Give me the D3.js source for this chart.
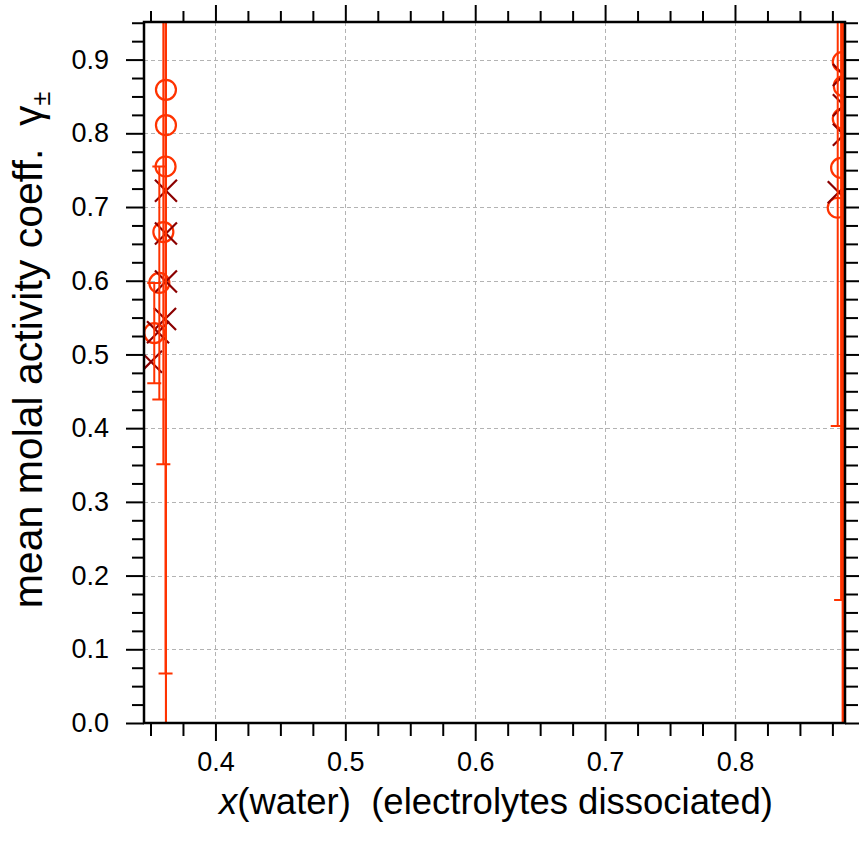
<!DOCTYPE html>
<html>
<head>
<meta charset="utf-8">
<script src="https://cdn.jsdelivr.net/npm/d3@7"></script>
<style>
  html, body { margin: 0; padding: 0; background: #fff; }
  svg { display: block; }
  text { font-family: "Liberation Sans", Arial, sans-serif; fill: #000; white-space: pre; }
</style>
</head>
<body>
<svg id="chart" width="859" height="845"></svg>
<script>
// ---- data ----
const xMajorTicks = [0.4, 0.5, 0.6, 0.7, 0.8];
const yMajorTicks = [0.0, 0.1, 0.2, 0.3, 0.4, 0.5, 0.6, 0.7, 0.8, 0.9];

// experimental points (circles) with symmetric uncertainty
const expX   = [0.3529, 0.3568, 0.3599, 0.3616, 0.3619, 0.3619, 0.8791, 0.8817, 0.8830, 0.8838, 0.8830];
const expY   = [0.529, 0.597, 0.666, 0.755, 0.811, 0.859, 0.699, 0.753, 0.820, 0.864, 0.897];
const expErr = [0.068, 0.158, 0.315, 0.688, 1.000, 1.200, 0.296, 0.586, 1.000, 1.200, 1.400];

// model points (crosses)
const modX = [0.3504, 0.3558, 0.3612, 0.3619, 0.3619, 0.3619, 0.8799, 0.8838, 0.8838, 0.8838];
const modY = [0.490, 0.530, 0.548, 0.599, 0.664, 0.722, 0.720, 0.798, 0.838, 0.879];

const xLabel = "(water)  (electrolytes dissociated)";
const yLabel = "mean molal activity coeff.  γ";

// ---- layout ----
const L = 144, R = 845, T = 22, B = 723;
const svg = d3.select("#chart");

const x = d3.scaleLinear().domain([0.345, 0.8847]).range([L, R]);
const y = d3.scaleLinear().domain([0, 0.951]).range([B, T]);

const xMinor = d3.range(0.35, 0.8847, 0.025).filter(v => !xMajorTicks.some(m => Math.abs(m - v) < 1e-6));
const yMinor = d3.range(0.025, 0.951, 0.025).filter(v => !yMajorTicks.some(m => Math.abs(m - v) < 1e-6));

// grid
const grid = svg.append("g").attr("stroke", "#b3b3b3").attr("stroke-width", 1).attr("stroke-dasharray", "4,3");
grid.selectAll("line.gx").data(xMajorTicks).join("line")
  .attr("x1", d => Math.round(x(d)) + 0.5).attr("x2", d => Math.round(x(d)) + 0.5)
  .attr("y1", T).attr("y2", B);
grid.selectAll("line.gy").data(yMajorTicks.filter(d => d > 0)).join("line")
  .attr("y1", d => Math.round(y(d)) + 0.5).attr("y2", d => Math.round(y(d)) + 0.5)
  .attr("x1", L).attr("x2", R);

// axes
function styleAxis(g) {
  g.select(".domain").remove();
  g.selectAll(".tick line").attr("stroke", "#000").attr("stroke-width", 2);
}
const fmt = d3.format(".1f");

// left
svg.append("g").attr("transform", `translate(${L},0)`)
  .call(d3.axisLeft(y).tickValues(yMajorTicks).tickSize(18).tickPadding(17).tickFormat(fmt))
  .call(styleAxis)
  .call(g => g.selectAll("text").attr("font-size", 27).attr("font-family", "Liberation Sans, Arial, sans-serif").attr("fill", "#000"));
svg.append("g").attr("transform", `translate(${L},0)`)
  .call(d3.axisLeft(y).tickValues(yMinor).tickSize(12).tickFormat(""))
  .call(styleAxis);
// right
svg.append("g").attr("transform", `translate(${R},0)`)
  .call(d3.axisRight(y).tickValues(yMajorTicks).tickSize(18).tickFormat(""))
  .call(styleAxis);
svg.append("g").attr("transform", `translate(${R},0)`)
  .call(d3.axisRight(y).tickValues(yMinor).tickSize(13).tickFormat(""))
  .call(styleAxis);
// bottom
svg.append("g").attr("transform", `translate(0,${B})`)
  .call(d3.axisBottom(x).tickValues(xMajorTicks).tickSize(18).tickPadding(11).tickFormat(fmt))
  .call(styleAxis)
  .call(g => g.selectAll("text").attr("font-size", 27).attr("font-family", "Liberation Sans, Arial, sans-serif").attr("fill", "#000"));
svg.append("g").attr("transform", `translate(0,${B})`)
  .call(d3.axisBottom(x).tickValues(xMinor).tickSize(13).tickFormat(""))
  .call(styleAxis);
// top
svg.append("g").attr("transform", `translate(0,${T})`)
  .call(d3.axisTop(x).tickValues(xMajorTicks).tickSize(17).tickFormat(""))
  .call(styleAxis);
svg.append("g").attr("transform", `translate(0,${T})`)
  .call(d3.axisTop(x).tickValues(xMinor).tickSize(11).tickFormat(""))
  .call(styleAxis);

// clip
svg.append("clipPath").attr("id", "clip")
  .append("rect").attr("x", L).attr("y", T).attr("width", R - L).attr("height", B - T);
const plot = svg.append("g").attr("clip-path", "url(#clip)");

const expData = expX.map((v, i) => ({ x: v, y: expY[i], e: expErr[i] }));
const modData = modX.map((v, i) => ({ x: v, y: modY[i] }));

// circles
plot.append("g").selectAll("circle").data(expData).join("circle")
  .attr("cx", d => x(d.x)).attr("cy", d => y(d.y)).attr("r", 10)
  .attr("fill", "none").attr("stroke", "#ff3300").attr("stroke-width", 2.2);

// crosses
const cs = 11;
const cross = plot.append("g").attr("stroke", "#8b0000").attr("stroke-width", 2.2);
cross.selectAll("path").data(modData).join("path")
  .attr("d", d => {
    const cx = x(d.x), cy = y(d.y);
    return `M${cx - cs},${cy - cs}L${cx + cs},${cy + cs}M${cx - cs},${cy + cs}L${cx + cs},${cy - cs}`;
  });

// error bars
const eb = plot.append("g").attr("stroke", "#ff3300").attr("stroke-width", 2).attr("fill", "none");
eb.selectAll("path").data(expData).join("path")
  .attr("d", d => {
    const cx = x(d.x), y1 = y(d.y + d.e), y0 = y(d.y - d.e);
    return `M${cx},${y1}L${cx},${y0}M${cx - 7},${y1}L${cx + 7},${y1}M${cx - 7},${y0}L${cx + 7},${y0}`;
  });

// frame
svg.append("rect").attr("x", L).attr("y", T).attr("width", R - L).attr("height", B - T)
  .attr("fill", "none").attr("stroke", "#000").attr("stroke-width", 2.5);

// axis titles
const xt = svg.append("text").attr("x", 496).attr("y", 814)
  .attr("text-anchor", "middle").attr("font-size", 36.5);
xt.append("tspan").attr("font-style", "italic").text("x");
xt.append("tspan").text(xLabel);

const yt = svg.append("text")
  .attr("transform", `translate(42,${350}) rotate(-90)`)
  .attr("text-anchor", "middle").attr("font-size", 41);
yt.append("tspan").text(yLabel);
yt.append("tspan").attr("font-size", 25).attr("dy", 8).text("±");
</script>
</body>
</html>
